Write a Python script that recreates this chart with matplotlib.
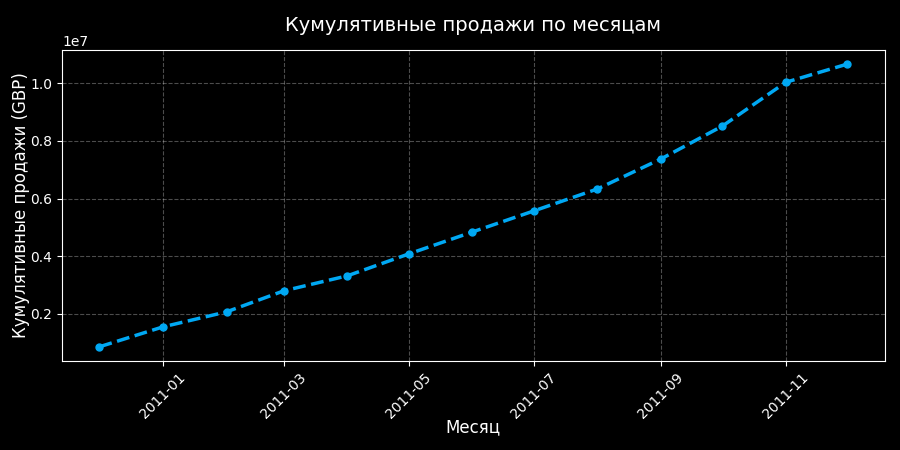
import pandas as pd
import matplotlib.pyplot as plt

# Месяцы и кумулятивные продажи (GBP)
months = pd.date_range("2010-12-01", "2011-12-01", freq="MS")
cum_sales = [0.86e6, 1.55e6, 2.07e6, 2.80e6, 3.32e6, 4.08e6, 4.84e6,
             5.57e6, 6.33e6, 7.37e6, 8.51e6, 10.03e6, 10.66e6]

plt.style.use("dark_background")
fig, ax = plt.subplots(figsize=(9, 4.5), dpi=100)
ax.plot(months, cum_sales, color="#00A8F3", linestyle="--", linewidth=2.5,
        marker="o", markersize=5)
ax.set_title("Кумулятивные продажи по месяцам", fontsize=14, pad=14)
ax.set_xlabel("Месяц", fontsize=12, labelpad=-2)
ax.set_ylabel("Кумулятивные продажи (GBP)", fontsize=12, labelpad=0)
ax.grid(True, linestyle="--", alpha=0.3)
plt.xticks(rotation=45)
fig.subplots_adjust(left=0.069, right=0.983, top=0.889, bottom=0.198)
plt.savefig("out.png")
